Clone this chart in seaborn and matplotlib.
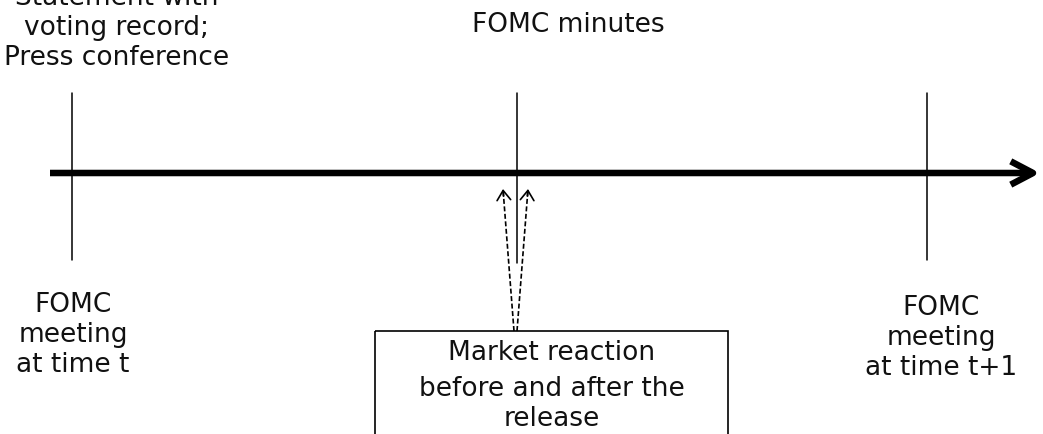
import matplotlib
matplotlib.use("Agg")
import matplotlib.pyplot as plt
import seaborn as sns
import pandas as pd
from matplotlib.patches import Rectangle

# diagram units = pixels of the picture, y grows downward
event_x = [72, 517, 927]
tick_top = [93, 93, 93]
tick_bottom = [260, 263, 260]
timeline_x = [50, 1040]
timeline_y = 173

top_labels = ["Statement with\nvoting record;\nPress conference", "FOMC minutes"]
top_label_x = [117, 568]
top_label_y = [28, 25]

bottom_labels = ["FOMC\nmeeting\nat time t", "FOMC\nmeeting\nat time t+1"]
bottom_label_x = [73, 941]
bottom_label_y = [335, 338]

box_lines = ["Market reaction", "before and after the", "release"]
box_line_y = [353, 389, 419]
box_left, box_right, box_top = 375, 728, 331

# dashed reaction arrows: (tail x, tail y, head x, head y)
reaction_tail_x = [514, 517]
reaction_head_x = [503, 528]
reaction_tail_y = 331
reaction_head_y = 189

sns.set_theme(style="white")
plt.rcParams['font.family'] = ['DejaVu Sans']

fig = plt.figure(figsize=(10.43, 4.34), dpi=100)
ax = fig.add_axes([0, 0, 1, 1])
ax.set_xlim(0, 1043)
ax.set_ylim(434, 0)
ax.axis("off")

# vertical event markers
ticks = pd.DataFrame({
    "x": [x for x in event_x for _ in (0, 1)],
    "y": [v for t, b in zip(tick_top, tick_bottom) for v in (t, b)],
    "event": [i for i in range(len(event_x)) for _ in (0, 1)],
})
sns.lineplot(data=ticks, x="x", y="y", units="event", estimator=None,
             sort=False, color="black", linewidth=1.1, ax=ax)

# main time axis
ax.annotate("", xy=(timeline_x[1], timeline_y), xytext=(timeline_x[0], timeline_y),
            arrowprops=dict(arrowstyle="->,head_length=0.8,head_width=0.42",
                            lw=4.7, color="black", mutation_scale=20,
                            shrinkA=0, shrinkB=0, capstyle="butt"))

# dashed arrows from the box to the minutes release
for tx, hx in zip(reaction_tail_x, reaction_head_x):
    ax.plot([tx, hx], [reaction_tail_y, reaction_head_y], color="black",
            lw=1.2, ls=(0, (3, 1.5)))
    dx, dy = hx - tx, reaction_head_y - reaction_tail_y
    ax.annotate("", xy=(hx, reaction_head_y), xytext=(hx - dx * 0.05, reaction_head_y - dy * 0.05),
                arrowprops=dict(arrowstyle="->,head_length=0.5,head_width=0.35",
                                lw=1.2, color="black", mutation_scale=14,
                                shrinkA=0, shrinkB=0))

ax.add_patch(Rectangle((box_left, box_top), box_right - box_left, 200,
                       fill=False, edgecolor="black", lw=1.2))

fs = 19
for lab, x, y in zip(top_labels, top_label_x, top_label_y):
    ax.text(x, y, lab, ha="center", va="center", fontsize=fs, linespacing=1.18, color="#111111")
for lab, x, y in zip(bottom_labels, bottom_label_x, bottom_label_y):
    ax.text(x, y, lab, ha="center", va="center", fontsize=fs, linespacing=1.18, color="#111111")
for lab, y in zip(box_lines, box_line_y):
    ax.text((box_left + box_right) / 2, y, lab, ha="center", va="center", fontsize=fs, color="#111111")

fig.savefig("out.png", dpi=100)
